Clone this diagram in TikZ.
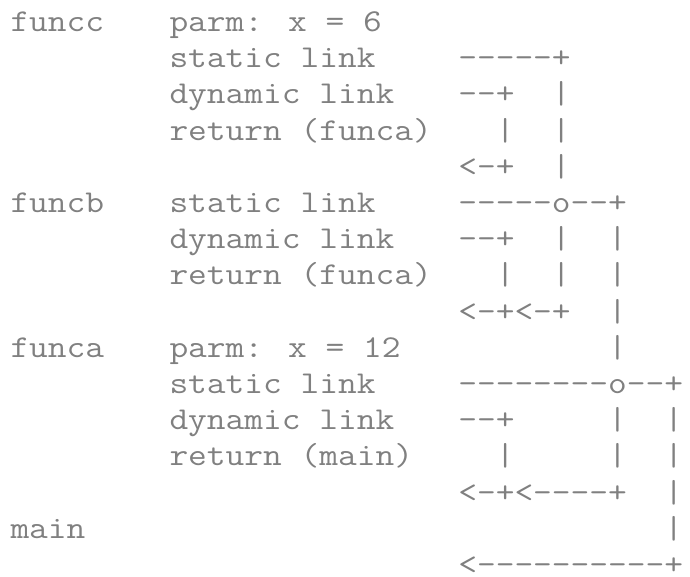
\documentclass[tikz,border=0pt]{standalone}
\usepackage{fontspec}
\usepackage{graphicx}
\usepackage{tikz}

\definecolor{ink}{RGB}{128,128,128}
\newcommand\widett[1]{\scalebox{1.144}[1]{#1}}
\tikzset{
  txt/.style={anchor=base west,inner sep=0pt,outer sep=0pt,text=ink,
    font=\ttfamily\fontsize{31.8}{36}\selectfont},
}

\begin{document}
\begin{tikzpicture}[x=1pt,y=-1pt]
\useasboundingbox (0,0) rectangle (690,577);
% frame names
\node[txt] (funcc) at (10.5,31.5) {\widett{funcc}};
\node[txt] (funcb) at (10.5,212.5) {\widett{funcb}};
\node[txt] (funca) at (10.5,357.3) {\widett{funca}};
\node[txt] (main) at (10.5,538.3) {\widett{main}};
% frame fields and link art, one row per line
\foreach \n/\f/\a in {1/parm: x = 6/{},
    2/static link/-----+,
    3/dynamic link/--+~~|,
    4/return (funca)/~~|~~|,
    5/{}/<-+~~|,
    6/static link/-----o--+,
    7/dynamic link/--+~~|~~|,
    8/return (funca)/~~|~~|~~|,
    9/{}/<-+<-+~~|,
    10/parm: x = 12/~~~~~~~~|,
    11/static link/--------o--+,
    12/dynamic link/--+~~~~~|~~|,
    13/return (main)/~~|~~~~~|~~|,
    14/{}/<-+<----+~~|,
    15/{}/~~~~~~~~~~~|,
    16/{}/<----------+}{
  \node[txt] (f\n) at (169.5,{31.5+36.2*(\n-1)}) {\widett{\f}};
  \node[txt] (a\n) at (458.3,{31.5+36.2*(\n-1)}) {\widett{\a}};
}
\end{tikzpicture}
\end{document}
